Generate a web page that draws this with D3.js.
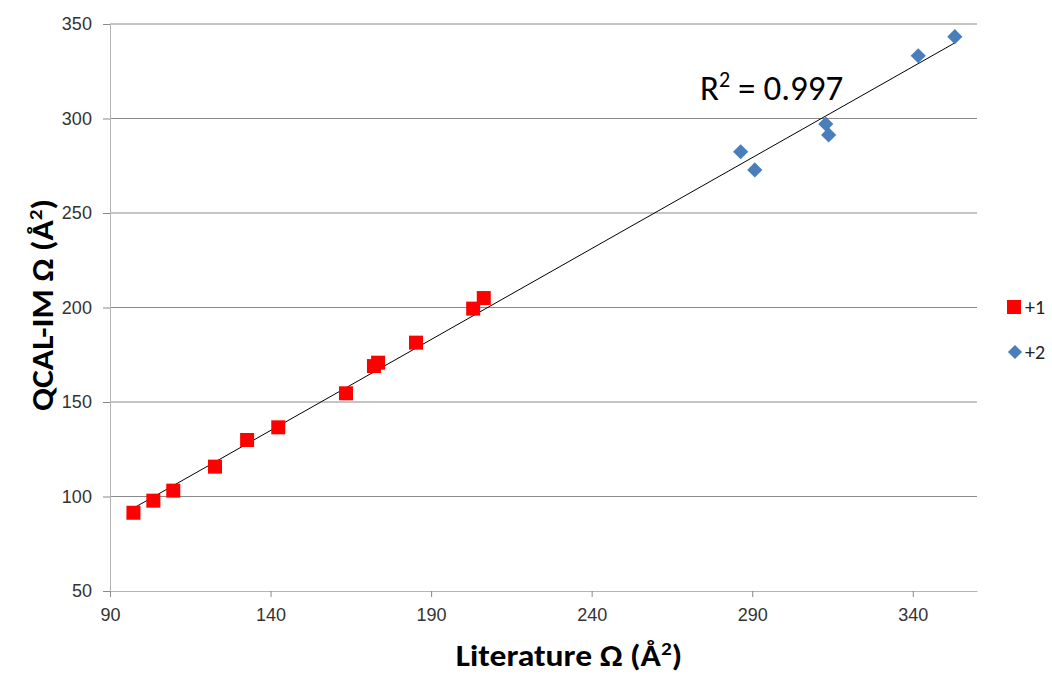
<!DOCTYPE html>
<html>
<head>
<meta charset="utf-8">
<script src="https://cdn.jsdelivr.net/npm/d3@7"></script>
<style>
  body { margin: 0; background: #fff; }
  svg { display: block; font-family: Carlito, "Liberation Sans Narrow", "Open Sans", sans-serif; }
</style>
</head>
<body>
<script>
// +1 charge state (red squares)
const litPlus1  = [97.3, 103.5, 109.7, 122.7, 132.7, 142.4, 163.5, 172.2, 173.5, 185.3, 203.1, 206.4];
const qcalPlus1 = [91.4, 97.8, 103.1, 115.8, 129.9, 136.6, 154.6, 169.0, 170.8, 181.4, 199.4, 205.0];
// +2 charge state (blue diamonds)
const litPlus2  = [286.4, 290.8, 312.9, 313.8, 341.7, 353.1];
const qcalPlus2 = [282.4, 272.8, 297.1, 291.3, 333.2, 343.3];

const xTicks = [90, 140, 190, 240, 290, 340];
const yTicks = [50, 100, 150, 200, 250, 300, 350];
const r2Label = "0.997";

const width = 1052, height = 675;
const svg = d3.select("body").append("svg").attr("width", width).attr("height", height);

const x = d3.scaleLinear().domain([90, 360]).range([110, 977]);
const y = d3.scaleLinear().domain([50, 350]).range([591, 24]);

// horizontal gridlines
svg.append("g")
  .selectAll("line")
  .data(yTicks.slice(1))
  .enter().append("line")
  .attr("x1", x(90)).attr("x2", x(360))
  .attr("y1", d => y(d)).attr("y2", d => y(d))
  .attr("stroke", "#8a8a8a").attr("stroke-width", 1);

// axes
const xAxis = svg.append("g")
  .attr("transform", `translate(0,${y(50)})`)
  .call(d3.axisBottom(x).tickValues(xTicks).tickSize(6).tickSizeOuter(0));
const yAxis = svg.append("g")
  .attr("transform", `translate(${x(90)},0)`)
  .call(d3.axisLeft(y).tickValues(yTicks).tickSize(7).tickSizeOuter(0));

[xAxis, yAxis].forEach(a => {
  a.select(".domain").attr("stroke", "#b4b4b4");
  a.selectAll(".tick line").attr("stroke", "#8a8a8a");
  a.selectAll("text").attr("fill", "#333").style("font-size", "18px");
});
xAxis.selectAll("text").attr("dy", "1.15em");
yAxis.selectAll("text").attr("dx", "-0.45em");

// trendline over all points (least squares)
const pts = litPlus1.map((v, i) => [v, qcalPlus1[i]]).concat(litPlus2.map((v, i) => [v, qcalPlus2[i]]));
const mx = d3.mean(pts, d => d[0]), my = d3.mean(pts, d => d[1]);
const slope = d3.sum(pts, d => (d[0] - mx) * (d[1] - my)) / d3.sum(pts, d => (d[0] - mx) ** 2);
const icpt = my - slope * mx;
const xMin = d3.min(pts, d => d[0]), xMax = d3.max(pts, d => d[0]);
svg.append("line")
  .attr("x1", x(xMin)).attr("y1", y(icpt + slope * xMin))
  .attr("x2", x(xMax)).attr("y2", y(icpt + slope * xMax))
  .attr("stroke", "#000").attr("stroke-width", 1);

// points
svg.append("g").selectAll("rect")
  .data(litPlus1.map((v, i) => ({ x: v, y: qcalPlus1[i] })))
  .enter().append("rect")
  .attr("x", d => x(d.x) - 7).attr("y", d => y(d.y) - 7)
  .attr("width", 14).attr("height", 14)
  .attr("fill", "#ff0000");

const diamond = d3.symbol().type(d3.symbolSquare).size(115);
svg.append("g").selectAll("path")
  .data(litPlus2.map((v, i) => ({ x: v, y: qcalPlus2[i] })))
  .enter().append("path")
  .attr("d", diamond)
  .attr("transform", d => `translate(${x(d.x)},${y(d.y)}) rotate(45)`)
  .attr("fill", "#4a7ebb");

// R² annotation
const r2 = svg.append("text").attr("x", 700).attr("y", 100)
  .style("font-size", "35px").attr("fill", "#000");
r2.append("tspan").text("R");
r2.append("tspan").text("2").attr("dy", -13).style("font-size", "22px");
r2.append("tspan").text(" = " + r2Label).attr("dy", 13);

// axis titles
const xt = svg.append("text").attr("transform", "translate(569,666) scale(1.12,1)")
  .attr("text-anchor", "middle").style("font-size", "30px").style("font-weight", "bold").attr("fill", "#000");
xt.append("tspan").text("Literature Ω (Å");
xt.append("tspan").text("2").attr("dy", -11).style("font-size", "19px");
xt.append("tspan").text(")").attr("dy", 11);

const yt = svg.append("text").attr("transform", "translate(53,305) rotate(-90) scale(1.12,1)")
  .attr("text-anchor", "middle").style("font-size", "30px").style("font-weight", "bold").attr("fill", "#000");
yt.append("tspan").text("QCAL-IM Ω (Å");
yt.append("tspan").text("2").attr("dy", -11).style("font-size", "19px");
yt.append("tspan").text(")").attr("dy", 11);

// legend
const legend = svg.append("g");
legend.append("rect").attr("x", 1007).attr("y", 300).attr("width", 14).attr("height", 14).attr("fill", "#ff0000");
legend.append("text").attr("x", 1025).attr("y", 314).text("+1").style("font-size", "20px").attr("fill", "#222");
legend.append("path").attr("d", d3.symbol().type(d3.symbolSquare).size(100))
  .attr("transform", "translate(1015,352) rotate(45)").attr("fill", "#4a7ebb");
legend.append("text").attr("x", 1025).attr("y", 359).text("+2").style("font-size", "20px").attr("fill", "#222");
</script>
</body>
</html>
